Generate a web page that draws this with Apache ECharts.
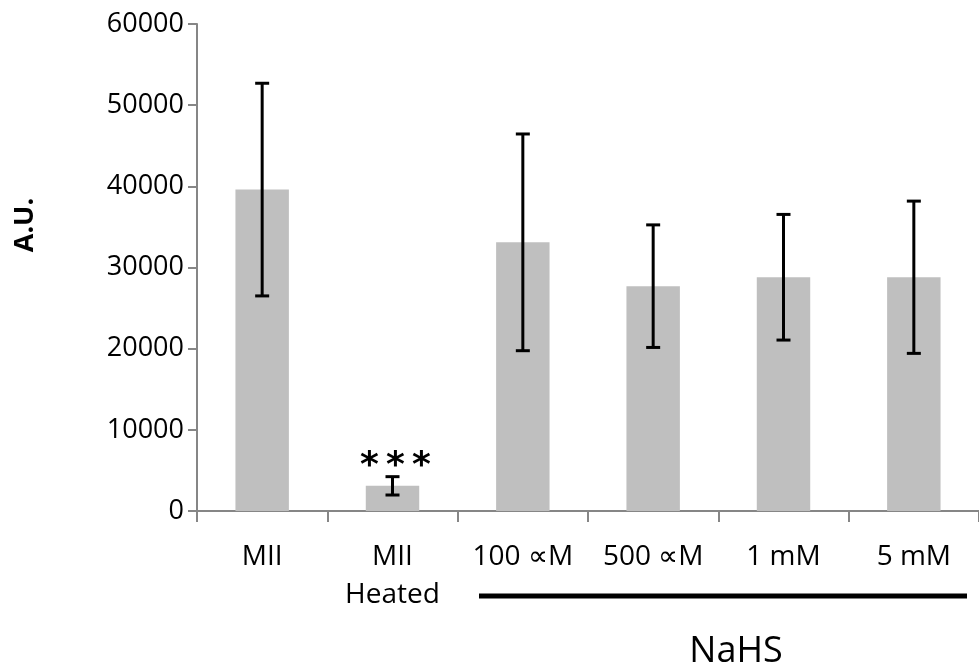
<!DOCTYPE html>
<html>
<head>
<meta charset="utf-8">
<script src="https://cdn.jsdelivr.net/npm/echarts@6/dist/echarts.min.js"></script>
<style>
  html, body { margin: 0; padding: 0; background: #fff; }
  #chart { width: 979px; height: 670px; }
</style>
</head>
<body>
<div id="chart"></div>
<script>
const categories = ['MII', 'MII\nHeated', '100 ∝M', '500 ∝M', '1 mM', '5 mM'];
const means = [39600, 3100, 33100, 27700, 28800, 28800];
const errors = [13100, 1130, 13350, 7550, 7740, 9380];
const yTicks = [0, 10000, 20000, 30000, 40000, 50000, 60000];

const font = '"Open Sans", sans-serif';
const chart = echarts.init(document.getElementById('chart'));

const errData = means.map((m, i) => [i, m - errors[i], m + errors[i]]);

chart.setOption({
    animation: false,
    grid: {left: 197, top: 24, width: 790, height: 487},
    xAxis: {
        type: 'category',
        data: categories,
        axisLine: {lineStyle: {color: '#868686', width: 2}},
        axisTick: {show: true, length: 11, lineStyle: {color: '#868686', width: 2}},
        axisLabel: {
            color: '#000', fontFamily: font, fontSize: 28,
            lineHeight: 38, margin: 27, interval: 0
        },
        splitLine: {show: false}
    },
    yAxis: {
        type: 'value',
        min: yTicks[0],
        max: yTicks[yTicks.length - 1],
        interval: 10000,
        axisLine: {show: true, lineStyle: {color: '#868686', width: 2}},
        axisTick: {show: true, length: 9, lineStyle: {color: '#868686', width: 2}},
        axisLabel: {
            color: '#000', fontFamily: font, fontSize: 27, margin: 13,
            formatter: v => String(v)
        },
        splitLine: {show: false}
    },
    series: [
        {
            type: 'bar',
            data: means,
            barWidth: '41%',
            itemStyle: {color: '#bfbfbf'}
        },
        {
            type: 'custom',
            data: errData,
            z: 10,
            renderItem: function (params, api) {
                const x = api.coord([api.value(0), 0])[0];
                const lo = api.coord([api.value(0), api.value(1)])[1];
                const hi = api.coord([api.value(0), api.value(2)])[1];
                const half = 7;
                const style = {stroke: '#000', lineWidth: 3};
                const children = [
                    {type: 'line', shape: {x1: x, y1: hi, x2: x, y2: lo}, style: style},
                    {type: 'line', shape: {x1: x - half, y1: hi, x2: x + half, y2: hi}, style: style},
                    {type: 'line', shape: {x1: x - half, y1: lo, x2: x + half, y2: lo}, style: style}
                ];
                // significance marker above the heated bar
                if (params.dataIndex === 1) {
                    children.push({
                        type: 'text',
                        style: {
                            text: '*\u2009*\u2009*', x: x + 3, y: hi - 10,
                            fill: '#000', font: 'bold 36px "DejaVu Sans", sans-serif',
                            textAlign: 'center', textVerticalAlign: 'middle'
                        }
                    });
                }
                return {type: 'group', children: children};
            }
        }
    ],
    graphic: [
        {
            type: 'text', x: 25, y: 225, rotation: Math.PI / 2,
            style: {
                text: 'A.U.', fill: '#000', font: 'bold 27px ' + font,
                textAlign: 'center', textVerticalAlign: 'middle'
            }
        },
        {
            type: 'line',
            shape: {x1: 479, y1: 596, x2: 967, y2: 596},
            style: {stroke: '#000', lineWidth: 5}
        },
        {
            type: 'text', x: 736, y: 652,
            style: {
                text: 'NaHS', fill: '#000', font: '36px ' + font,
                textAlign: 'center', textVerticalAlign: 'middle'
            }
        }
    ]
});
</script>
</body>
</html>
